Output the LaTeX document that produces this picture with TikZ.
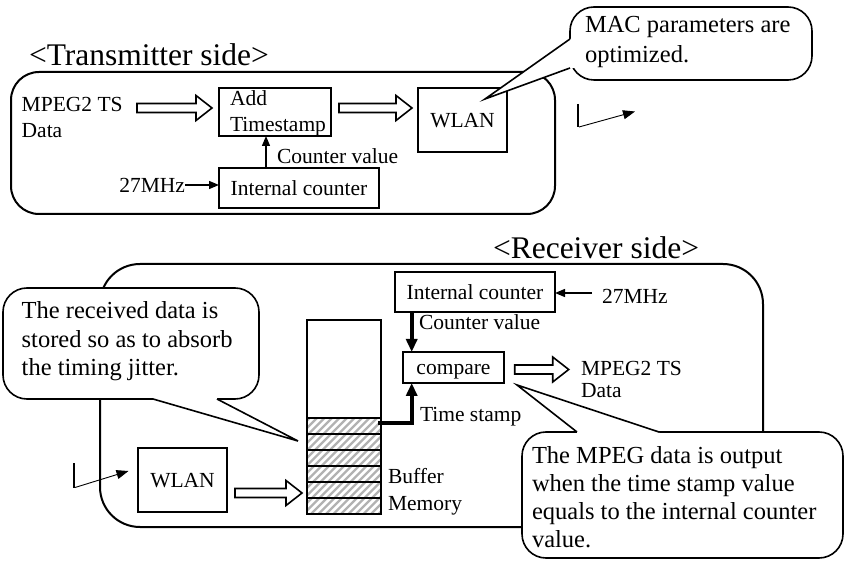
\documentclass[tikz,border=0pt]{standalone}
\usepackage{fontspec}
\setmainfont{Liberation Serif}
\usetikzlibrary{arrows.meta,calc}

\tikzset{
  every node/.style={inner sep=0pt, outer sep=0pt},
  txt/.style={font=\fontsize{21.5}{26}\selectfont},
  boxtxt/.style={txt, text height=14.5pt, text depth=0pt},
  calltxt/.style={font=\fontsize{24.5}{28.5}\selectfont},
  titletxt/.style={font=\fontsize{31.5}{36}\selectfont},
  blk/.style={draw, line width=2pt},
  panel/.style={draw, line width=2pt, rounded corners=#1},
  thinarr/.style={line width=1.3pt, -{Triangle[length=10pt,width=8pt]}},
  thickarr/.style={line width=4pt, -{Triangle[length=13pt,width=11pt]}},
  hollow/.style={draw, line width=1.6pt, fill=white, line join=miter},
  callout/.style={draw, line width=1.6pt, fill=white, rounded corners=24},
  wedge/.style={line width=1.6pt, line join=miter},
  antline/.style={line width=2pt},
  antarr/.style={line width=0.9pt, -{Triangle[length=12pt,width=9pt]}},
  hatch/.style={gray!60, line width=2.4pt},
}

% horizontal block arrow with an open outline, from #1 to #2
\newcommand\blockarrow[2]{%
  \draw[hollow] let \p1=(#1), \p2=(#2) in
   (\x1,\y1+4.5pt) -- (\x2-16pt,\y1+4.5pt) -- (\x2-16pt,\y1+12.5pt) -- (\x2,\y1)
   -- (\x2-16pt,\y1-12.5pt) -- (\x2-16pt,\y1-4.5pt) -- (\x1,\y1-4.5pt) -- cycle;}

\begin{document}
\begin{tikzpicture}[x=1pt,y=-1pt]
\useasboundingbox (0,0) rectangle (844,561);

% ---------------- transmitter ----------------
\draw[panel=28] (11,72) rectangle (555,214);
\node[titletxt, anchor=base west] (ttx) at (29,66) {<Transmitter side>};

% multi-line nodes are placed by the baseline of their last line
\node[txt, align=left, anchor=base west] (mptx) at (21.7,138) {MPEG2 TS\\Data};
\node[blk, minimum width=112pt, minimum height=48pt] (add) at (275,112) {};
\node[txt, align=left, anchor=base west, font=\fontsize{21.5}{25.5}\selectfont] (addtxt) at (230,131.5) {Add\\Timestamp};
\node[blk, minimum width=89pt, minimum height=64pt, boxtxt] (wlantx) at (462.5,120) {WLAN};
\node[blk, minimum width=160pt, minimum height=40pt, boxtxt] (ictx) at (299,188) {Internal counter};
\node[txt, anchor=east] (mhztx) at (185,185) {27MHz};

\coordinate (a1s) at (137,108);
\coordinate (a1e) at (212,108);
\coordinate (a2s) at (339,108);
\coordinate (a2e) at (412,108);
\blockarrow{a1s}{a1e}
\blockarrow{a2s}{a2e}

\draw[thinarr] (mhztx.east) -- (mhztx.east -| ictx.west);
\draw[thinarr] ($(ictx.north west)+(47,0)$) -- ($(add.south west)+(47,0)$);
\node[txt, anchor=base west] (cvtx) at (277,164) {Counter value};

% callout on the transmitter WLAN block
\draw[callout] (570,7) rectangle (812,80);
\fill[white] (570,39) -- (485,99) -- (570,68) -- (576,68) -- (576,39) -- cycle;
\draw[wedge] (570,39) -- (485,99) -- (570,68);
\node[calltxt, align=left, anchor=base west, font=\fontsize{24.5}{30}\selectfont] (mac) at (585,63) {MAC parameters are\\optimized.};

% radio link out of the transmitter
\draw[antline] (578,104) -- (578,127);
\coordinate (txant) at (579,127);
\coordinate (txanttip) at (635,111.5);
\draw[antarr] (txant) -- (txanttip);

% ---------------- receiver ----------------
\draw[panel=40] (100,264) rectangle (763,527);
\node[titletxt, anchor=base west] (trx) at (493,258.5) {<Receiver side>};

\node[blk, minimum width=160pt, minimum height=40pt, boxtxt] (icrx) at (475,292) {Internal counter};
\node[txt, anchor=west] (mhzrx) at (602,296) {27MHz};
\draw[thinarr] (592,293) -- (icrx.east |- 0,293);

\node[blk, minimum width=101pt, minimum height=31pt, boxtxt] (cmp) at (453.5,367.5) {compare};
\draw[thickarr] (icrx.south -| 411.7,0) -- (cmp.north -| 411.7,0);
\node[txt, anchor=base west] (cvrx) at (419,330) {Counter value};

\coordinate (a3s) at (514.7,369.5);
\coordinate (a3e) at (568.7,369.5);
\blockarrow{a3s}{a3e}
\node[txt, align=left, anchor=base west, font=\fontsize{21.5}{21.5}\selectfont] (mprx) at (581,397.5) {MPEG2 TS\\Data};

% buffer memory
\node[blk, minimum width=74pt, minimum height=194pt, anchor=north west] (buf) at (307,320) {};
\begin{scope}
  \clip (307,418) rectangle (381,514);
  \foreach \k in {0,...,30} \draw[hatch] ($(200,520)+(7.5*\k,0)$) -- ++(120,-120);
\end{scope}
\foreach \yy in {418,434,450,466,482,498} \draw[line width=2pt] (307,\yy) -- (381,\yy);
\draw[blk] (307,320) rectangle (381,514);
\node[txt, align=left, anchor=base west, font=\fontsize{21.5}{27}\selectfont] (bufl) at (388,510) {Buffer\\Memory};

\draw[thickarr] (378,423.3) -- (411.7,423.3) -- (cmp.south -| 411.7,0);
\node[txt, anchor=base west] (tsl) at (420,421) {Time stamp};

\node[blk, minimum width=89pt, minimum height=64pt, boxtxt] (wlanrx) at (182.5,480) {WLAN};
\coordinate (a4s) at (235,493);
\coordinate (a4e) at (302,493);
\blockarrow{a4s}{a4e}

% radio link into the receiver
\draw[antline] (74,463) -- (74,488);
\coordinate (rxant) at (75,487.5);
\coordinate (rxanttip) at (128.5,471);
\draw[antarr] (rxant) -- (rxanttip);

% callout on the buffer memory
\draw[callout] (3,288) rectangle (259,399);
\fill[white] (153,399) -- (298,441) -- (217,399) -- (217,393) -- (153,393) -- cycle;
\draw[wedge] (153,399) -- (298,441) -- (217,399);
\node[calltxt, align=left, anchor=base west] (rcv) at (21.7,376) {The received data is\\stored so as to absorb\\the timing jitter.};

% callout on the compare block
\draw[callout] (522,432) rectangle (843,558);
\fill[white] (577,432) -- (517,385) -- (659,432) -- (659,438) -- (577,438) -- cycle;
\draw[wedge] (577,432) -- (517,385) -- (659,432);
\node[calltxt, align=left, anchor=base west, font=\fontsize{24.5}{28}\selectfont] (outc) at (532,547) {The MPEG data is output\\when the time stamp value\\equals to the internal counter\\value.};
\end{tikzpicture}
\end{document}
